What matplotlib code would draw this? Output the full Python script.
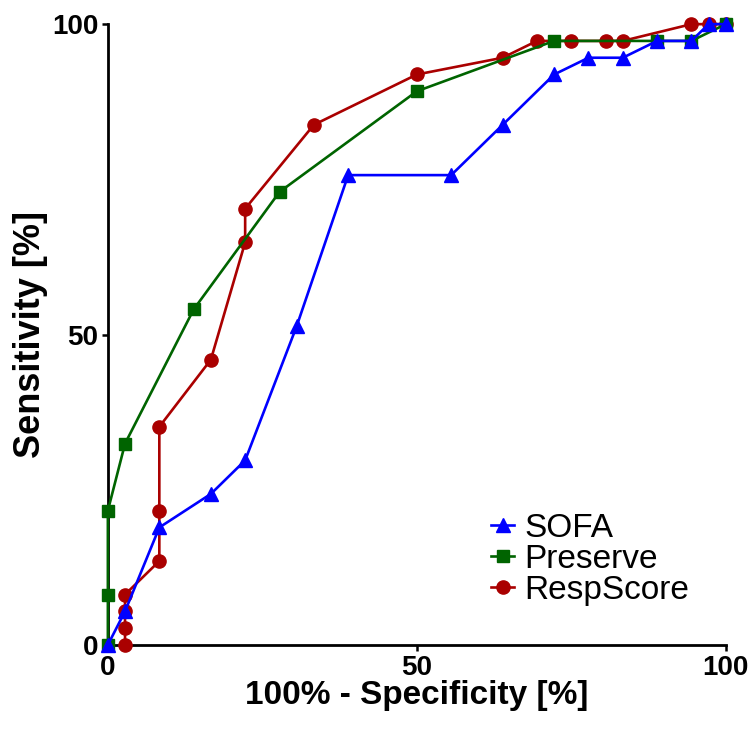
import matplotlib
matplotlib.use("Agg")
import matplotlib.pyplot as plt

# Data (percent)
sofa_x = [0, 2.78, 8.33, 16.67, 22.22, 30.56, 38.89, 55.56, 63.89, 72.22, 77.78, 83.33, 88.89, 94.44, 97.22, 100]
sofa_y = [0, 5.41, 18.92, 24.32, 29.73, 51.35, 75.68, 75.68, 83.78, 91.89, 94.59, 94.59, 97.30, 97.30, 100, 100]

preserve_x = [0, 0, 0, 2.78, 13.89, 27.78, 50.0, 72.22, 88.89, 94.44, 100]
preserve_y = [0, 8.11, 21.62, 32.43, 54.05, 72.97, 89.19, 97.30, 97.30, 97.30, 100]

resp_x = [2.78, 2.78, 2.78, 2.78, 8.33, 8.33, 8.33, 16.67, 22.22, 22.22, 33.33, 50.0, 63.89, 69.44, 75.0, 80.56, 83.33, 94.44, 97.22, 100]
resp_y = [0, 2.70, 5.41, 8.11, 13.51, 21.62, 35.14, 45.95, 64.86, 70.27, 83.78, 91.89, 94.59, 97.30, 97.30, 97.30, 97.30, 100, 100, 100]

x_ticks = [0, 50, 100]
y_ticks = [0, 50, 100]

plt.rcParams['font.family'] = ['Liberation Sans', 'DejaVu Sans']

fig = plt.figure(figsize=(7.49, 7.32), dpi=100)
ax = fig.add_axes([0.144, 0.119, 0.825, 0.848])

lw = 1.9
ax.plot(sofa_x, sofa_y, color='#0000ff', lw=lw, marker='^', ms=10, label='SOFA', clip_on=False, zorder=5)
ax.plot(preserve_x, preserve_y, color='#006400', lw=lw, marker='s', ms=9, label='Preserve', clip_on=False, zorder=4)
ax.plot(resp_x, resp_y, color='#aa0000', lw=lw, marker='o', ms=9.5, label='RespScore', clip_on=False, zorder=3)

ax.set_xlim(0, 100)
ax.set_ylim(0, 100)
ax.set_xticks(x_ticks)
ax.set_yticks(y_ticks)
for s in ['top', 'right']:
    ax.spines[s].set_visible(False)
for s in ['left', 'bottom']:
    ax.spines[s].set_linewidth(2.0)
    ax.spines[s].set_zorder(2)
ax.tick_params(width=1.8, length=4, labelsize=20, direction='out', pad=3)
for lab in ax.get_xticklabels() + ax.get_yticklabels():
    lab.set_fontweight('bold')

ax.set_xlabel('100% - Specificity [%]', fontsize=24, fontweight='bold', labelpad=-0.5)
ax.set_ylabel('Sensitivity [%]', fontsize=26, fontweight='bold', labelpad=3)

leg = ax.legend(loc='lower left', bbox_to_anchor=(0.62, 0.063), frameon=False, fontsize=24,
                handlelength=0.7, handletextpad=0.3, labelspacing=0.0, borderpad=0.0,
                borderaxespad=0.0)

fig.savefig('out.png', dpi=100)
